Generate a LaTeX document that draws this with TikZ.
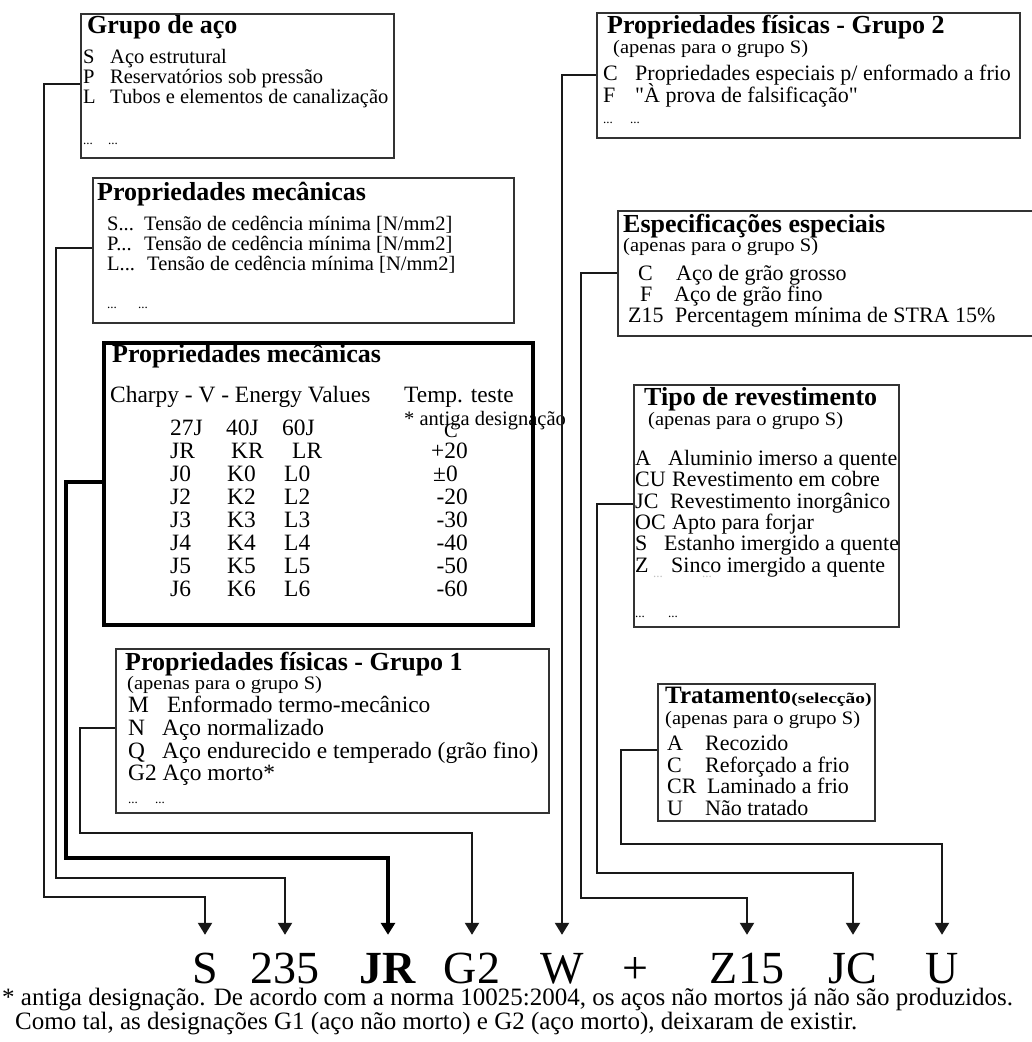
\documentclass[tikz,border=0pt]{standalone}
\usepackage{fontspec}
\setmainfont{Liberation Serif}
\usetikzlibrary{arrows.meta}
\newcommand\myfs[1]{\fontsize{#1}{#1}\selectfont}
\newcommand\sq{{\addfontfeatures{Ligatures=TeXOff}"}}
\begin{document}
\begin{tikzpicture}[x=1pt,y=-1pt,
  box/.style={draw=black!80, line width=2pt, anchor=north west, inner sep=0pt},
  bigbox/.style={box, draw=black, line width=3.5pt},
  tx/.style={anchor=base west, inner sep=0pt, font=\myfs{20.5}},
  apn/.style={anchor=base west, inner sep=0pt, font=\myfs{19}},
  txl/.style={anchor=base west, inner sep=0pt, font=\myfs{22}},
  txb/.style={anchor=base west, inner sep=0pt, font=\myfs{23.4}},
  ttl/.style={anchor=base west, inner sep=0pt, font=\myfs{26}\bfseries},
  dots/.style={anchor=base west, inner sep=0pt, font=\myfs{13}},
  conn/.style={draw=black!90, line width=2.2pt, -{Triangle[width=14pt,length=12pt]}},
  thickconn/.style={conn, draw=black, line width=4pt},
  code/.style={anchor=base, inner sep=0pt, text height=48pt, text depth=0pt, font=\myfs{46}},
]
\useasboundingbox (0,0) rectangle (1032,1042);
\clip (0,0) rectangle (1032,1042);

% ---------- boxes ----------
\node[box, minimum width=313pt, minimum height=144pt] (b1) at (80,13) {};
\node[box, minimum width=421pt, minimum height=145pt] (b2) at (92,177) {};
\node[bigbox, minimum width=429pt, minimum height=282pt] (b3) at (102,341) {};
\node[box, minimum width=433pt, minimum height=164pt] (b4) at (115,648) {};
\node[box, minimum width=423pt, minimum height=125pt] (b5) at (596,12) {};
\node[box, minimum width=430pt, minimum height=125pt] (b6) at (617,210) {};
\node[box, minimum width=265pt, minimum height=242pt] (b7) at (633,384) {};
\node[box, minimum width=217pt, minimum height=137pt] (b8) at (657,683) {};

% ---------- Grupo de aco ----------
\node[ttl] (t1) at (87,33) {Grupo de aço};
\node[tx] (t1sk) at (83,63) {S};   \node[tx] (t1s) at (110,63) {Aço estrutural};
\node[tx] (t1pk) at (83,83) {P};   \node[tx] (t1p) at (110,83) {Reservatórios sob pressão};
\node[tx] (t1lk) at (83,103) {L};  \node[tx] (t1l) at (110,103) {Tubos e elementos de canalização};
\node[dots] (t1d1) at (83,144) {...}; \node[dots] (t1d2) at (108,144) {...};

% ---------- Propriedades mecanicas (1) ----------
\node[ttl] (t2) at (97,200) {Propriedades mecânicas};
\node[tx] (t2sk) at (107,230) {S...}; \node[tx] (t2s) at (144,230) {Tensão de cedência mínima [N/mm2]};
\node[tx] (t2pk) at (107,250) {P...}; \node[tx] (t2p) at (144,250) {Tensão de cedência mínima [N/mm2]};
\node[tx] (t2lk) at (107,270) {L...}; \node[tx] (t2l) at (147,270) {Tensão de cedência mínima [N/mm2]};
\node[dots] (t2d1) at (107,308) {...}; \node[dots] (t2d2) at (138,308) {...};

% ---------- Propriedades mecanicas (Charpy) ----------
\node[ttl] (t3) at (112,362) {Propriedades mecânicas};
\node[txb] (t3ch) at (110,402) {Charpy - V - Energy Values};
\node[txb] (t3tt) at (404,402) {Temp. teste};
\node[tx] (t3ad) at (404,425) {* antiga designação};
\node[tx] (t3c) at (444,437) {C};
\node[txb] (r0a) at (170,435) {27J}; \node[txb] (r0b) at (226,435) {40J}; \node[txb] (r0c) at (282,435) {60J};
\node[txb] (r1a) at (170,458) {JR};  \node[txb] (r1b) at (231,458) {KR};  \node[txb] (r1c) at (292,458) {LR};
\node[txb] (r2a) at (170,481) {J0};  \node[txb] (r2b) at (227,481) {K0};  \node[txb] (r2c) at (284,481) {L0};
\node[txb] (r3a) at (170,504) {J2};  \node[txb] (r3b) at (227,504) {K2};  \node[txb] (r3c) at (284,504) {L2};
\node[txb] (r4a) at (170,527) {J3};  \node[txb] (r4b) at (227,527) {K3};  \node[txb] (r4c) at (284,527) {L3};
\node[txb] (r5a) at (170,550) {J4};  \node[txb] (r5b) at (227,550) {K4};  \node[txb] (r5c) at (284,550) {L4};
\node[txb] (r6a) at (170,573) {J5};  \node[txb] (r6b) at (227,573) {K5};  \node[txb] (r6c) at (284,573) {L5};
\node[txb] (r7a) at (170,596) {J6};  \node[txb] (r7b) at (227,596) {K6};  \node[txb] (r7c) at (284,596) {L6};
\node[txb, anchor=base east] (r1t) at (468,458) {+20};
\node[txb] (r2t) at (433,481) {±0};
\node[txb, anchor=base east] (r3t) at (468,504) {-20};
\node[txb, anchor=base east] (r4t) at (468,527) {-30};
\node[txb, anchor=base east] (r5t) at (468,550) {-40};
\node[txb, anchor=base east] (r6t) at (468,573) {-50};
\node[txb, anchor=base east] (r7t) at (468,596) {-60};

% ---------- Propriedades fisicas - Grupo 1 ----------
\node[ttl] (t4) at (125,670) {Propriedades físicas - Grupo 1};
\node[apn] (t4ap) at (127,689) {\scalebox{1.08}[1]{(apenas para o grupo S)}};
\node[txb] (t4mk) at (128,712) {M}; \node[txb] (t4m) at (167,712) {Enformado termo-mecânico};
\node[txb] (t4nk) at (128,735) {N}; \node[txb] (t4n) at (162,735) {Aço normalizado};
\node[txb] (t4qk) at (128,758) {Q}; \node[txb] (t4q) at (162,758) {Aço endurecido e temperado (grão fino)};
\node[txb] (t4g) at (128,780) {G2 Aço morto*};
\node[dots] (t4d1) at (128,803) {...}; \node[dots] (t4d2) at (155,803) {...};

% ---------- Propriedades fisicas - Grupo 2 ----------
\node[ttl] (t5) at (607,33) {Propriedades físicas - Grupo 2};
\node[apn] (t5ap) at (613,53) {\scalebox{1.08}[1]{(apenas para o grupo S)}};
\node[txl] (t5ck) at (603,80) {C}; \node[txl] (t5c) at (635,80) {Propriedades especiais p/ enformado a frio};
\node[txl] (t5fk) at (603,102) {F}; \node[txl] (t5f) at (635,102) {\sq À prova de falsificação\sq};
\node[dots] (t5d1) at (603,123) {...}; \node[dots] (t5d2) at (630,123) {...};

% ---------- Especificacoes especiais ----------
\node[ttl] (t6) at (623,232) {Especificações especiais};
\node[apn] (t6ap) at (623,251) {\scalebox{1.08}[1]{(apenas para o grupo S)}};
\node[txl] (t6ck) at (638,280) {C};   \node[txl] (t6c) at (676,280) {Aço de grão grosso};
\node[txl] (t6fk) at (640,301) {F};   \node[txl] (t6f) at (674,301) {Aço de grão fino};
\node[txl] (t6zk) at (628,322) {Z15}; \node[txl] (t6z) at (675,322) {Percentagem mínima de STRA 15\%};

% ---------- Tipo de revestimento ----------
\node[ttl] (t7) at (644,405) {Tipo de revestimento};
\node[apn] (t7ap) at (648,425) {\scalebox{1.08}[1]{(apenas para o grupo S)}};
\node[txl] (t7ak) at (635,465) {A};  \node[txl] (t7a) at (668,465) {Aluminio imerso a quente};
\node[txl] (t7uk) at (635,486) {CU}; \node[txl] (t7u) at (672,486) {Revestimento em cobre};
\node[txl] (t7jk) at (635,508) {JC}; \node[txl] (t7j) at (670,508) {Revestimento inorgânico};
\node[txl] (t7ok) at (635,529) {OC}; \node[txl] (t7o) at (672,529) {Apto para forjar};
\node[txl] (t7sk) at (635,550) {S};  \node[txl] (t7s) at (664,550) {Estanho imergido a quente};
\node[txl] (t7zk) at (635,572) {Z};  \node[txl] (t7z) at (671,572) {Sinco imergido a quente};
\node[dots, text=black!25] (t7f1) at (653,577) {...}; \node[dots, text=black!25] (t7f2) at (702,577) {...};
\node[dots] (t7d1) at (635,617) {...}; \node[dots] (t7d2) at (668,617) {...};

% ---------- Tratamento ----------
\node[anchor=base west, inner sep=0pt, font=\myfs{25}\bfseries] (t8) at (665,703) {Tratamento};
\node[anchor=base west, inner sep=0pt, font=\myfs{15}\bfseries] (t8s) at (t8.base east) {\scalebox{1.3}[1]{(selecção)}};
\node[apn] (t8ap) at (665,724) {\scalebox{1.08}[1]{(apenas para o grupo S)}};
\node[txl] (t8ak) at (667,750) {A};  \node[txl] (t8a) at (705,750) {Recozido};
\node[txl] (t8ck) at (667,772) {C};  \node[txl] (t8c) at (705,772) {Reforçado a frio};
\node[txl] (t8rk) at (667,793) {CR}; \node[txl] (t8r) at (707,793) {Laminado a frio};
\node[txl] (t8uk) at (667,815) {U};  \node[txl] (t8u) at (705,815) {Não tratado};

% ---------- designation ----------
\node[code] (cS)   at (205,983) {S};
\node[code] (c235) at (285,983) {235};
\node[code, font=\myfs{46}\bfseries] (cJR) at (388,983) {JR};
\node[code] (cG2)  at (472,983) {G2};
\node[code] (cW)   at (562,983) {W};
\node[code] (cP)   at (635,983) {+};
\node[code] (cZ)   at (747,983) {Z15};
\node[code] (cJC)  at (853,983) {JC};
\node[code] (cU)   at (942,983) {U};

% ---------- connectors ----------
\draw[conn] (b1.west |- 0,84)  -| (44,897) -| (cS.north);
\draw[conn] (b2.west |- 0,248) -| (56,878) -| (c235.north);
\draw[thickconn] (b3.west |- 0,482) -| (66,858) -| (cJR.north);
\draw[conn] (b4.west |- 0,728) -| (80,833) -| (cG2.north);
\draw[conn] (b5.west |- 0,75)  -| (cW.north);
\draw[conn] (b6.west |- 0,273) -| (581,898) -| (cZ.north);
\draw[conn] (b7.west |- 0,504) -| (597,873) -| (cJC.north);
\draw[conn] (b8.west |- 0,750) -| (621,844) -| (cU.north);

% ---------- footnote ----------
\node[anchor=base west, inner sep=0pt, font=\myfs{25}] (fn1) at (2,1005) {* antiga designação. De acordo com a norma 10025:2004, os aços não mortos já não são produzidos.};
\node[anchor=base west, inner sep=0pt, font=\myfs{25}] (fn2) at (15,1029) {Como tal, as designações G1 (aço não morto) e G2 (aço morto), deixaram de existir.};
\end{tikzpicture}
\end{document}
